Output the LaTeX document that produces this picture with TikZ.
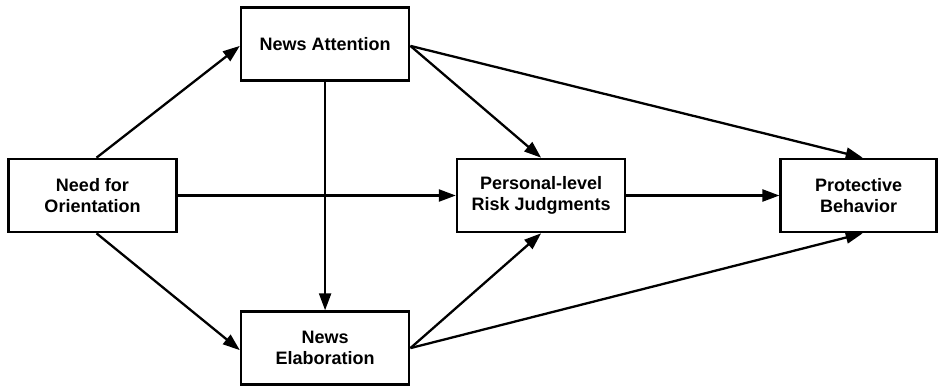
\documentclass[tikz,border=0pt]{standalone}
\usepackage{fontspec}
\setmainfont{Liberation Sans}
\usepackage{tikz}
\usetikzlibrary{positioning}
\usetikzlibrary{arrows.meta}

\begin{document}
\begin{tikzpicture}[
    x=1pt, y=1pt,
    block/.style={rectangle, draw, line width=2.6pt, minimum width=168pt, minimum height=73pt, align=center, inner sep=2pt, font=\fontsize{18}{21}\selectfont\bfseries},
    arrow/.style={-{Triangle[length=17pt, width=12pt]}, line width=2.3pt}
]
\useasboundingbox (0,0) rectangle (941,-388);

% Source
\node[block] (need) at (92.5,-195.5) {Need for\\Orientation};

% News use
\node[block, above right=76pt and 62pt of need.north east, anchor=south west] (attention) {News Attention};
\node[block, below right=77pt and 62pt of need.south east, anchor=north west] (elaboration) {News\\Elaboration};

% Outcomes
\node[block, right=278pt of need] (risk) {Personal-level\\Risk Judgments};
\node[block, minimum width=156pt, right=153pt of risk] (behavior) {Protective\\Behavior};

% Paths from need for orientation
\draw[arrow] ([xshift=4pt]need.north) -- ([yshift=-2pt]attention.west);
\draw[arrow] ([xshift=4pt]need.south) -- ([yshift=-2pt]elaboration.west);
\draw[arrow] (need) -- (risk);

% Attention to elaboration
\draw[arrow] (attention) -- (elaboration);

% Paths to outcomes
\draw[arrow] ([yshift=-2pt]attention.east) -- (risk.north);
\draw[arrow] ([yshift=-2pt]attention.east) -- ([xshift=4pt]behavior.north);
\draw[arrow] (elaboration.east) -- (risk.south);
\draw[arrow] (elaboration.east) -- ([xshift=4pt]behavior.south);
\draw[arrow] (risk) -- (behavior);

\end{tikzpicture}
\end{document}
